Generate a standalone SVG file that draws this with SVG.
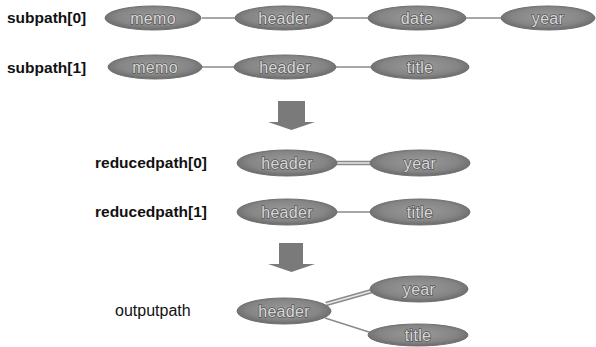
<svg xmlns="http://www.w3.org/2000/svg" width="596" height="347" viewBox="0 0 596 347">
<defs>
<radialGradient id="g" cx="50%" cy="45%" r="55%">
<stop offset="0" stop-color="#9a9a9a"/>
<stop offset="0.7" stop-color="#858585"/>
<stop offset="1" stop-color="#6a6a6a"/>
</radialGradient>
</defs>
<style>
.n{fill:url(#g);stroke:#707070;stroke-width:1}
.t{font-family:"Liberation Sans",Arial,sans-serif;font-size:16px;fill:#d8d8d8;text-anchor:middle;stroke:#585858;stroke-width:1.4;paint-order:stroke;letter-spacing:0.3px}
.l{font-family:"Liberation Sans",Arial,sans-serif;font-size:15.5px;font-weight:bold;fill:#111}
.c{stroke:#8a8a8a;stroke-width:1.5;fill:none}
.d{stroke:#8a8a8a;stroke-width:4.5;fill:none}
.di{stroke:#e8e8e8;stroke-width:1.5;fill:none}
.a{fill:#7a7a7a}
</style>
<g id="labels">
<text class="l" x="7" y="23">subpath[0]</text>
<text class="l" x="7" y="73">subpath[1]</text>
<text class="l" x="95" y="168">reducedpath[0]</text>
<text class="l" x="95" y="217">reducedpath[1]</text>
<text class="l" x="115" y="316" style="font-weight:normal;font-size:16px">outputpath</text>
</g>
<g id="connectors">
<line class="c" x1="202" y1="18" x2="235" y2="18"/>
<line class="c" x1="333" y1="18" x2="368" y2="18"/>
<line class="c" x1="466" y1="18" x2="501" y2="18"/>
<line class="c" x1="202" y1="67" x2="235" y2="67"/>
<line class="c" x1="336" y1="67" x2="372" y2="67"/>
<line class="d" x1="336" y1="163" x2="371" y2="163"/>
<line class="di" x1="336" y1="163" x2="371" y2="163"/>
<line class="c" x1="336" y1="212" x2="371" y2="212"/>
<line class="d" x1="326" y1="304" x2="372" y2="291"/>
<line class="di" x1="326" y1="304" x2="372" y2="291"/>
<line class="c" x1="325" y1="318" x2="372" y2="333"/>
</g>
<g id="arrow1"><path class="a" d="M278,101 H305 V122 H315 L291.5,130 L268,122 H278 Z"/></g>
<g id="arrow2"><path class="a" d="M279,243 H303 V264 H315 L291.5,272 L268,264 H279 Z"/></g>
<g id="s0-memo"><ellipse class="n" cx="153" cy="18" rx="48" ry="12"/><text class="t" x="153" y="24">memo</text></g>
<g id="s0-header"><ellipse class="n" cx="284" cy="18" rx="49" ry="12"/><text class="t" x="284" y="24">header</text></g>
<g id="s0-date"><ellipse class="n" cx="417" cy="18" rx="49" ry="12"/><text class="t" x="417" y="24">date</text></g>
<g id="s0-year"><ellipse class="n" cx="548" cy="18" rx="47" ry="12"/><text class="t" x="548" y="24">year</text></g>
<g id="s1-memo"><ellipse class="n" cx="155" cy="67" rx="47" ry="12"/><text class="t" x="155" y="73">memo</text></g>
<g id="s1-header"><ellipse class="n" cx="285" cy="67" rx="51" ry="12"/><text class="t" x="285" y="73">header</text></g>
<g id="s1-title"><ellipse class="n" cx="420" cy="67" rx="49" ry="12"/><text class="t" x="420" y="73">title</text></g>
<g id="r0-header"><ellipse class="n" cx="287" cy="163" rx="50" ry="13"/><text class="t" x="287" y="169">header</text></g>
<g id="r0-year"><ellipse class="n" cx="420" cy="163" rx="50" ry="13"/><text class="t" x="420" y="169">year</text></g>
<g id="r1-header"><ellipse class="n" cx="287" cy="212" rx="50" ry="13"/><text class="t" x="287" y="218">header</text></g>
<g id="r1-title"><ellipse class="n" cx="420" cy="212" rx="50" ry="13"/><text class="t" x="420" y="218">title</text></g>
<g id="o-header"><ellipse class="n" cx="284" cy="311" rx="47" ry="13"/><text class="t" x="284" y="317">header</text></g>
<g id="o-year"><ellipse class="n" cx="419" cy="289" rx="49" ry="13"/><text class="t" x="419" y="295">year</text></g>
<g id="o-title"><ellipse class="n" cx="418" cy="335" rx="50" ry="11"/><text class="t" x="418" y="341">title</text></g>
</svg>
